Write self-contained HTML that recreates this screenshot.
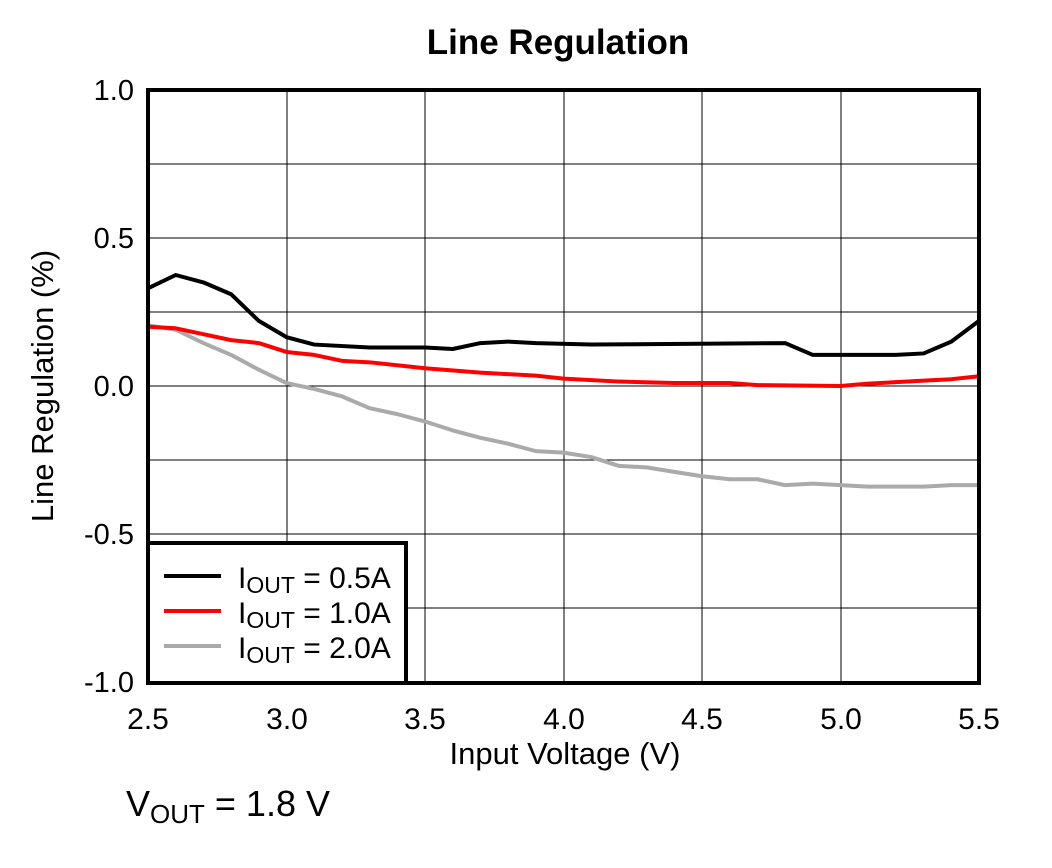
<!DOCTYPE html>
<html><head><style>body{margin:0;background:#fff}svg{display:block}text{font-family:"Liberation Sans",Arial,sans-serif}</style></head><body>
<svg width="1052" height="868" viewBox="0 0 1052 868">
<rect width="1052" height="868" fill="#fff"/>
<text x="558" y="54" font-size="35" font-weight="bold" text-anchor="middle">Line Regulation</text>
<g stroke="#000" stroke-width="1">
<line x1="287" y1="90" x2="287" y2="683"/><line x1="425" y1="90" x2="425" y2="683"/><line x1="564" y1="90" x2="564" y2="683"/><line x1="702" y1="90" x2="702" y2="683"/><line x1="841" y1="90" x2="841" y2="683"/>
<line x1="148" y1="164" x2="979" y2="164"/><line x1="148" y1="238" x2="979" y2="238"/><line x1="148" y1="312" x2="979" y2="312"/><line x1="148" y1="386" x2="979" y2="386"/><line x1="148" y1="460" x2="979" y2="460"/><line x1="148" y1="534" x2="979" y2="534"/><line x1="148" y1="608" x2="979" y2="608"/>
</g>
<g transform="translate(148,386) scale(277,-296)" fill="none" stroke-linejoin="round">
<polyline vector-effect="non-scaling-stroke" stroke="#aaa" stroke-width="4" points="0,0.205 0.1,0.19 0.2,0.145 0.3,0.105 0.4,0.055 0.5,0.01 0.6,-0.01 0.7,-0.035 0.8,-0.075 0.9,-0.095 1.0,-0.12 1.1,-0.15 1.2,-0.175 1.3,-0.195 1.4,-0.22 1.5,-0.225 1.6,-0.24 1.7,-0.27 1.8,-0.275 1.9,-0.29 2.0,-0.305 2.1,-0.315 2.2,-0.315 2.3,-0.335 2.4,-0.33 2.5,-0.335 2.6,-0.34 2.8,-0.34 2.9,-0.335 3.0,-0.335"/>
<polyline vector-effect="non-scaling-stroke" stroke="#f00" stroke-width="4" points="0,0.2 0.1,0.195 0.2,0.175 0.3,0.155 0.4,0.145 0.5,0.115 0.6,0.105 0.7,0.085 0.8,0.08 1.0,0.06 1.2,0.045 1.4,0.035 1.5,0.025 1.7,0.015 1.9,0.01 2.1,0.01 2.2,0.003 2.5,0.0 2.6,0.008 2.8,0.018 2.9,0.023 3.0,0.033"/>
<polyline vector-effect="non-scaling-stroke" stroke="#000" stroke-width="4" points="0,0.33 0.1,0.375 0.2,0.35 0.3,0.31 0.4,0.22 0.5,0.165 0.6,0.14 0.8,0.13 1.0,0.13 1.1,0.125 1.2,0.145 1.3,0.15 1.4,0.145 1.6,0.14 2.3,0.145 2.4,0.105 2.7,0.105 2.8,0.11 2.9,0.15 3.0,0.22"/>
</g>
<rect x="148" y="90" width="831" height="593" fill="none" stroke="#000" stroke-width="4"/>
<rect x="148" y="543" width="258" height="140" fill="#fff" stroke="#000" stroke-width="4"/>
<g stroke-width="4"><line x1="164" y1="576" x2="221" y2="576" stroke="#000"/><line x1="164" y1="611" x2="221" y2="611" stroke="#f00"/><line x1="164" y1="646" x2="221" y2="646" stroke="#aaa"/></g>
<g font-size="30">
<text x="238" y="588">I<tspan font-size="23" dy="5">OUT</tspan><tspan dy="-5"> = 0.5A</tspan></text>
<text x="238" y="623">I<tspan font-size="23" dy="5">OUT</tspan><tspan dy="-5"> = 1.0A</tspan></text>
<text x="238" y="658">I<tspan font-size="23" dy="5">OUT</tspan><tspan dy="-5"> = 2.0A</tspan></text>
</g>
<g font-size="29" text-anchor="end">
<text x="134" y="100">1.0</text><text x="134" y="248">0.5</text><text x="134" y="396">0.0</text><text x="134" y="544">-0.5</text><text x="134" y="692">-1.0</text>
</g>
<g font-size="30" text-anchor="middle">
<text x="148" y="729">2.5</text><text x="287" y="729">3.0</text><text x="425" y="729">3.5</text><text x="564" y="729">4.0</text><text x="702" y="729">4.5</text><text x="841" y="729">5.0</text><text x="979" y="729">5.5</text>
<text x="565" y="764" font-size="31">Input Voltage (V)</text>
</g>
<text transform="translate(53,386) rotate(-90)" font-size="31" text-anchor="middle">Line Regulation (%)</text>
<text x="126" y="816" font-size="36">V<tspan font-size="26" dy="7">OUT</tspan><tspan dy="-7"> = 1.8 V</tspan></text>
</svg>
</body></html>
